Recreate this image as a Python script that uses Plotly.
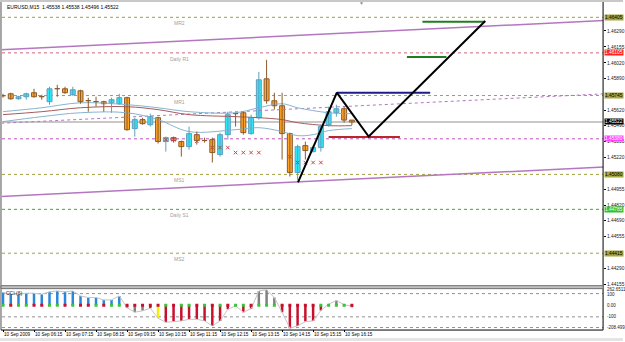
import plotly.graph_objects as go

# ---------------- data ----------------
bars = list(range(46))
open_ = [1.45743, 1.45760, 1.45718, 1.45735, 1.45769, 1.45735, 1.45693, 1.45802, 1.45802, 1.45752,
         1.45785, 1.45701, 1.45693, 1.45693, 1.45684, 1.45676, 1.45727, 1.45466, 1.45542, 1.45499,
         1.45558, 1.45357, 1.45390, 1.45357, 1.45314, 1.45415, 1.45365, 1.45373, 1.45247, 1.45415,
         1.45592, 1.45600, 1.45424, 1.45558, 1.45886, 1.45701, 1.45659, 1.45424, 1.45096, 1.45323,
         1.45272, 1.45306, 1.45499, 1.45600, 1.45634, 1.45538]
high = [1.45760, 1.45769, 1.45743, 1.45769, 1.45802, 1.45752, 1.45819, 1.45836, 1.45819, 1.45819,
        1.45794, 1.45727, 1.45735, 1.45701, 1.45727, 1.45760, 1.45735, 1.45558, 1.45558, 1.45592,
        1.45567, 1.45399, 1.45399, 1.45365, 1.45483, 1.45441, 1.45390, 1.45390, 1.45432, 1.45609,
        1.45600, 1.45609, 1.45584, 1.45945, 1.46046, 1.45769, 1.45769, 1.45432, 1.45331, 1.45357,
        1.45323, 1.45499, 1.45651, 1.45668, 1.45651, 1.45538]
low = [1.45727, 1.45710, 1.45710, 1.45710, 1.45727, 1.45710, 1.45668, 1.45735, 1.45760, 1.45743,
       1.45676, 1.45609, 1.45651, 1.45609, 1.45600, 1.45668, 1.45449, 1.45399, 1.45499, 1.45483,
       1.45340, 1.45272, 1.45348, 1.45230, 1.45289, 1.45331, 1.45348, 1.45180, 1.45230, 1.45373,
       1.45483, 1.45415, 1.45415, 1.45542, 1.45676, 1.45626, 1.45205, 1.45062, 1.45030, 1.45205,
       1.45264, 1.45272, 1.45483, 1.45567, 1.45516, 1.45496]
close = [1.45743, 1.45718, 1.45735, 1.45760, 1.45735, 1.45735, 1.45802, 1.45802, 1.45769, 1.45794,
         1.45693, 1.45701, 1.45693, 1.45676, 1.45710, 1.45727, 1.45457, 1.45542, 1.45508, 1.45567,
         1.45357, 1.45390, 1.45365, 1.45314, 1.45424, 1.45365, 1.45365, 1.45264, 1.45415, 1.45584,
         1.45592, 1.45432, 1.45558, 1.45878, 1.45701, 1.45659, 1.45424, 1.45096, 1.45314, 1.45281,
         1.45306, 1.45483, 1.45609, 1.45634, 1.45538, 1.45522]

ma_idx = [0, 5, 10, 16, 20, 24, 30, 33, 36, 38, 42, 45]
ma_fast = [1.45609, 1.45642, 1.45684, 1.45668, 1.45642, 1.45609, 1.45600, 1.45642, 1.45676, 1.45642, 1.45600, 1.45592]
ma_mid = [1.45584, 1.45609, 1.45642, 1.45651, 1.45626, 1.45584, 1.45567, 1.45558, 1.45542, 1.45516, 1.45491, 1.45491]
ma_slow_idx = [0, 5, 10, 16, 20, 24, 30, 33, 36, 38, 40, 42, 45]
ma_slow = [1.45525, 1.45567, 1.45600, 1.45600, 1.45542, 1.45441, 1.45457, 1.45474, 1.45441, 1.45407, 1.45415, 1.45449, 1.45466]

level_names = ["MR2", "Daily R1", "MR1", "", "MS1", "Daily S1", "MS2"]
level_values = [1.46405, 1.46105, 1.45745, 1.45380, 1.45080, 1.44785, 1.44415]
bid_price = 1.45522

channel_x = [-1, 79]
channel_upper = [1.46128, 1.46383]
channel_mid = [1.45509, 1.45764]
channel_lower = [1.44892, 1.45147]

zz_x = [38.05, 43.06, 47.17, 62.2]
zz_y = [1.45012, 1.45769, 1.45399, 1.46374]
navy_x = [43.06, 55.1]; navy_y = [1.45769, 1.45769]
red_x = [42.0, 51.2]; red_y = [1.45395, 1.45395]
green1_x = [54.1, 62.2]; green1_y = [1.46368, 1.46368]
green2_x = [52.1, 57.2]; green2_y = [1.46071, 1.46071]

mk_x = [21, 22, 25, 27, 28, 29, 30, 31, 32, 33, 37, 38, 39, 40, 41]
mk_y = [1.45373, 1.45373, 1.45359, 1.45306, 1.45306, 1.45306, 1.45264, 1.45264, 1.45264, 1.45264,
        1.45230, 1.45180, 1.45180, 1.45180, 1.45180]

cci = [109, 95, 95, 103, 103, 95, 115, 123, 115, 123, 80, 66, 66, 46, 46, 80,
       -22, -60, -48, -26, -112, -147, -141, -135, -121, -121, -135, -178, -135, -35,
       -5, -60, -30, 123, 132, 66, -60, -198, -178, -141, -135, -45, 10, 40, 5, -10]
cci_bar_kind = ["b"] * 16 + ["r", "g", "g", "r", "y"] + ["r"] * 9 + ["n", "r", "r", "g", "g", "g"] + \
               ["r"] * 6 + ["n", "g", "g", "r"]
cci_dot_kind = ["g", "r", "g", "g", "r", "r", "g", "g", "r", "g", "r", "r", "g", "r", "g", "g",
                "r", "r", "r", "r", "r", "g", "r", "g", "g", "r", "g", "r", "g", "r",
                "g", "g", "r", "g", "g", "g", "r", "r", "r", "r", "r", "g", "g", "g", "g", "r"]

price_ticks = [1.46290, 1.46155, 1.46020, 1.45890, 1.45620, 1.45490, 1.45355, 1.45220,
               1.44955, 1.44820, 1.44690, 1.44555, 1.44290, 1.44155]
time_idx = [0, 4, 8, 12, 16, 20, 24, 28, 32, 36, 40, 44]
time_text = ["10 Sep 2009", "10 Sep 06:15", "10 Sep 07:15", "10 Sep 08:15", "10 Sep 09:15",
             "10 Sep 10:15", "10 Sep 11:15", "10 Sep 12:15", "10 Sep 13:15", "10 Sep 14:15",
             "10 Sep 15:15", "10 Sep 16:15"]
title_text = "EURUSD,M15  1.45538 1.45538 1.45496 1.45522"

# ---------------- layout helpers ----------------
W, H = 625, 342
def PX(x): return x / W
def PY(y): return 1 - y / H

FONT = "Liberation Sans"
X_LEFT, X_RIGHT = 2, 605
MAIN_TOP, MAIN_BOT = 5, 287
CCI_TOP, CCI_BOT = 289, 330

fig = go.Figure()

# channel
for ys, dash, w in [(channel_upper, "solid", 1.5), (channel_lower, "solid", 1.5), (channel_mid, "dot", 1)]:
    fig.add_trace(go.Scatter(x=channel_x, y=ys, mode="lines",
                             line=dict(color="#b476c0", width=w, dash=dash),
                             hoverinfo="skip", showlegend=False))

# moving averages
fig.add_trace(go.Scatter(x=ma_slow_idx, y=ma_slow, mode="lines", line=dict(color="#86b4d0", width=1, shape="spline"),
                         hoverinfo="skip", showlegend=False))
fig.add_trace(go.Scatter(x=ma_idx, y=ma_mid, mode="lines", line=dict(color="#a45a5a", width=1, shape="spline"),
                         hoverinfo="skip", showlegend=False))
fig.add_trace(go.Scatter(x=ma_idx, y=ma_fast, mode="lines", line=dict(color="#86b4d0", width=1, shape="spline"),
                         hoverinfo="skip", showlegend=False))

# candles: wicks + bodies built from OHLC
UP_LINE, UP_FILL = "#5f9fbf", "#2fe6f4"
DN_LINE, DN_FILL = "#8c5a2c", "#ffa424"
is_up = [c > o for o, c in zip(open_, close)]
for up, col in [(True, UP_LINE), (False, DN_LINE)]:
    wx, wy = [], []
    for i, u in enumerate(is_up):
        if u == up:
            wx += [bars[i], bars[i], None]
            wy += [low[i], high[i], None]
    fig.add_trace(go.Scatter(x=wx, y=wy, mode="lines", line=dict(color=col, width=1),
                             hoverinfo="skip", showlegend=False))
body_base = [min(o, c) for o, c in zip(open_, close)]
body_h = [max(abs(c - o), 0.000012) for o, c in zip(open_, close)]
fig.add_trace(go.Bar(x=bars, y=body_h, base=body_base, width=0.64,
                     marker=dict(color=[UP_FILL if u else DN_FILL for u in is_up],
                                 line=dict(color=[UP_LINE if u else DN_LINE for u in is_up], width=1)),
                     hoverinfo="skip", showlegend=False))

# markers
fig.add_trace(go.Scatter(x=mk_x, y=mk_y, mode="markers",
                         marker=dict(symbol="x-thin-open", size=3.5, color="#c04848", line=dict(width=1)),
                         hoverinfo="skip", showlegend=False))

# drawn pattern
for xs, ys, col in [(red_x, red_y, "#b82828"), (navy_x, navy_y, "#1c1c8c"),
                    (green1_x, green1_y, "#1f7f1f"), (green2_x, green2_y, "#1f7f1f")]:
    fig.add_trace(go.Scatter(x=xs, y=ys, mode="lines", line=dict(color=col, width=2),
                             hoverinfo="skip", showlegend=False))
fig.add_trace(go.Scatter(x=zz_x, y=zz_y, mode="lines", line=dict(color="#000000", width=2),
                         hoverinfo="skip", showlegend=False))

# CCI
bar_cols = {"b": "#2a86d8", "r": "#c8102e", "g": "#808080", "y": "#f0f000", "n": "rgba(0,0,0,0)"}
dot_cols = {"g": "#3cc23c", "r": "#c8102e"}
fig.add_trace(go.Bar(x=bars, y=cci, base=0, width=0.32,
                     marker=dict(color=[bar_cols[k] for k in cci_bar_kind], line=dict(width=0)),
                     xaxis="x2", yaxis="y2", hoverinfo="skip", showlegend=False))
fig.add_trace(go.Scatter(x=bars, y=cci, mode="lines", line=dict(color="#c4c4c4", width=1),
                         xaxis="x2", yaxis="y2", hoverinfo="skip", showlegend=False))
fig.add_trace(go.Scatter(x=bars, y=[0] * len(bars), mode="markers",
                         marker=dict(symbol="square", size=3, color=[dot_cols[k] for k in cci_dot_kind]),
                         xaxis="x2", yaxis="y2", hoverinfo="skip", showlegend=False))

shapes = []
annotations = []

# level lines
lvl_line_cols = ["#a0a040", "#d0607a", "#a0a040", "#c050c0", "#a0a040", "#40a040", "#a0a040"]
lvl_box_cols = ["#a6a640", "#ff2020", "#a6a640", "#ff40ff", "#a6a640", "#30c030", "#a6a640"]
lvl_txt_cols = ["#000000", "#ffffff", "#000000", "#ffffff", "#000000", "#ffffff", "#000000"]
for name, v, lc, bc, tc in zip(level_names, level_values, lvl_line_cols, lvl_box_cols, lvl_txt_cols):
    shapes.append(dict(type="line", xref="paper", yref="y", x0=PX(X_LEFT), x1=PX(X_RIGHT), y0=v, y1=v,
                       line=dict(color=lc, width=1, dash="dot"), layer="below"))
    if name:
        annotations.append(dict(x=22.75, y=v, xref="x", yref="y", text=name, showarrow=False,
                                xanchor="center", yanchor="top", yshift=-1,
                                font=dict(family=FONT, size=5, color="#a0a0a0")))
    annotations.append(dict(x=PX(606), y=v, xref="paper", yref="y", text=f"{v:.5f}", showarrow=False,
                            xanchor="left", yanchor="middle", bgcolor=bc, borderpad=0,
                            font=dict(family=FONT, size=4.8, color=tc)))
# bid line
shapes.append(dict(type="line", xref="paper", yref="y", x0=PX(X_LEFT), x1=PX(X_RIGHT), y0=bid_price, y1=bid_price,
                   line=dict(color="#c8c8c8", width=2), layer="below"))
annotations.append(dict(x=PX(606), y=bid_price, xref="paper", yref="y", text=f"{bid_price:.5f}", showarrow=False,
                        xanchor="left", yanchor="middle", bgcolor="#000000", borderpad=0,
                        font=dict(family=FONT, size=4.8, color="#ffffff")))

# CCI levels
for lv in [100, -100]:
    shapes.append(dict(type="line", xref="paper", yref="y2", x0=PX(X_LEFT), x1=PX(X_RIGHT), y0=lv, y1=lv,
                       line=dict(color="#909090", width=1, dash="dot"), layer="below"))
shapes.append(dict(type="line", xref="paper", yref="paper", x0=PX(X_LEFT), x1=PX(X_RIGHT),
                   y0=PY(CCI_BOT - 1.5), y1=PY(CCI_BOT - 1.5),
                   line=dict(color="#909090", width=1, dash="dot"), layer="below"))
for txt, yp in [("262.6511", 290.8), ("100", 295.2), ("0.00", 306), ("-100", 317.5), ("-208.499", 328.5)]:
    annotations.append(dict(x=PX(607), y=PY(yp), xref="paper", yref="paper", text=txt, showarrow=False,
                            xanchor="left", yanchor="middle", font=dict(family=FONT, size=4.5, color="#202020")))
annotations.append(dict(x=PX(4), y=PY(293.5), xref="paper", yref="paper", text="CCI (6)", showarrow=False,
                        xanchor="left", yanchor="middle", font=dict(family=FONT, size=5, color="#202020")))

# frame
shapes += [
    dict(type="rect", xref="paper", yref="paper", x0=0, x1=1, y0=PY(2), y1=1,
         fillcolor="#c8c8c8", line=dict(width=0)),
    dict(type="rect", xref="paper", yref="paper", x0=0, x1=1, y0=0, y1=PY(339),
         fillcolor="#e4e4e4", line=dict(width=0)),
    dict(type="line", xref="paper", yref="paper", x0=PX(1), x1=PX(1), y0=PY(331), y1=PY(2),
         line=dict(color="#505050", width=1)),
    dict(type="line", xref="paper", yref="paper", x0=PX(X_RIGHT), x1=PX(X_RIGHT), y0=PY(331), y1=PY(2),
         line=dict(color="#000000", width=1)),
    dict(type="rect", xref="paper", yref="paper", x0=PX(1), x1=PX(X_RIGHT), y0=PY(289.5), y1=PY(286.5),
         fillcolor="#c0c0c0", line=dict(color="#707070", width=1)),
    dict(type="line", xref="paper", yref="paper", x0=PX(1), x1=PX(X_RIGHT), y0=PY(331), y1=PY(331),
         line=dict(color="#000000", width=1)),
]

# title & time labels
annotations.append(dict(x=PX(5), y=PY(7.5), xref="paper", yref="paper", text=title_text, showarrow=False,
                        xanchor="left", yanchor="middle", font=dict(family=FONT, size=5, color="#000000")))
annotations.append(dict(x=PX(363), y=PY(3.5), xref="paper", yref="paper", text="▼", showarrow=False,
                        xanchor="center", yanchor="middle", font=dict(family=FONT, size=5, color="#909090")))
for ti, tt in zip(time_idx, time_text):
    annotations.append(dict(x=ti, y=PY(335.5), xref="x2", yref="paper", text=tt, showarrow=False,
                            xanchor="left", yanchor="middle", xshift=-1,
                            font=dict(family=FONT, size=4.6, color="#000000")))

xr = [-0.13, 77.4]
fig.update_layout(
    width=W, height=H, margin=dict(l=0, r=0, t=0, b=0),
    paper_bgcolor="#ffffff", plot_bgcolor="#ffffff",
    showlegend=False, barmode="overlay",
    xaxis=dict(domain=[PX(X_LEFT), PX(X_RIGHT)], range=xr, anchor="y", showgrid=False, zeroline=False,
               showticklabels=False, ticks="", fixedrange=True),
    xaxis2=dict(domain=[PX(X_LEFT), PX(X_RIGHT)], range=xr, anchor="y2", matches="x", showgrid=False,
                zeroline=False, showticklabels=False, ticks="outside", ticklen=2, tickcolor="#000000",
                tickvals=time_idx),
    yaxis=dict(domain=[PY(MAIN_BOT), PY(MAIN_TOP)], range=[1.44137, 1.46509], side="right", anchor="x",
               showgrid=False, zeroline=False, tickvals=price_ticks, ticktext=[f"{v:.5f}" for v in price_ticks],
               ticks="outside", ticklen=2, tickcolor="#000000",
               tickfont=dict(family=FONT, size=4.8, color="#202020")),
    yaxis2=dict(domain=[PY(CCI_BOT), PY(CCI_TOP)], range=[-205, 147], side="right", anchor="x2",
                showgrid=False, zeroline=False, showticklabels=False, ticks=""),
    shapes=shapes, annotations=annotations,
)

fig.write_html("out.html")
